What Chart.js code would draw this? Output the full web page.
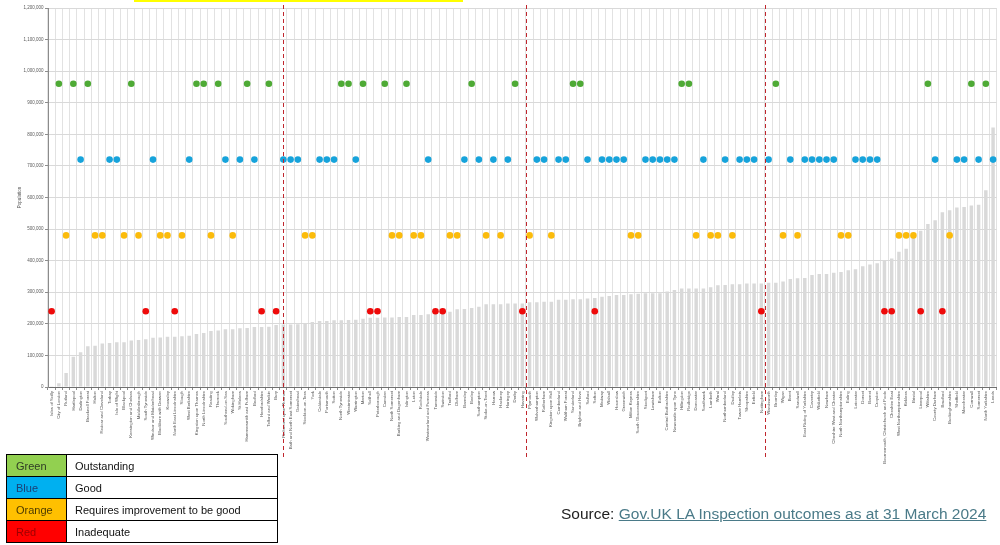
<!DOCTYPE html>
<html>
<head>
<meta charset="utf-8">
<script src="https://cdn.jsdelivr.net/npm/chart.js@4.4.1/dist/chart.umd.min.js"></script>
<style>
  html, body { margin: 0; padding: 0; background: #fff; }
  #wrap { position: relative; width: 1000px; height: 545px; overflow: hidden; font-family: "Liberation Sans", Arial, sans-serif; }
  #chart { position: absolute; left: 0; top: 0; }
  #highlight { position: absolute; left: 134px; top: 0; width: 329px; height: 2px; background: #ffff00; }
  table.key { position: absolute; left: 6px; top: 454px; border-collapse: collapse; table-layout: fixed; }
  table.key td { border: 1.5px solid #000; height: 21px; padding: 0 0 0 9px; font-size: 11px; line-height: 12px; color: #111; white-space: nowrap; }
  table.key td.swatch { width: 50px; }
  table.key td.desc { width: 202px; padding-left: 8px; }
  .source { position: absolute; left: 561px; top: 504px; font-size: 15.5px; line-height: 20px; color: #222; white-space: nowrap; }
  .source a { color: #4a7a88; text-decoration: underline; }
</style>
</head>
<body>
<div id="wrap">
  <canvas id="chart" width="1000" height="545"></canvas>
  <div id="highlight"></div>
  <table class="key" id="key"></table>
  <div class="source">Source: <a href="#">Gov.UK LA Inspection outcomes as at 31 March 2024</a></div>
</div>
<script>
// Local authorities, ordered by population
const authorities = [
  "Isles of Scilly", "City of London", "Rutland", "Hartlepool", "Darlington", "Bracknell Forest", "Halton",
  "Redcar and Cleveland", "Torbay", "Isle of Wight", "Blackpool", "Kensington and Chelsea", "Middlesbrough",
  "South Tyneside", "Windsor and Maidenhead", "Blackburn with Darwen", "Knowsley", "North East Lincolnshire",
  "Slough", "West Berkshire", "Kingston upon Thames", "North Lincolnshire", "Reading", "Thurrock",
  "Southend-on-Sea", "Wokingham", "St Helens", "Hammersmith and Fulham", "Bedford", "Herefordshire",
  "Telford and Wrekin", "Bury", "Richmond upon Thames", "Bath and North East Somerset", "Gateshead",
  "Stockton-on-Tees", "York", "Calderdale", "Portsmouth", "Sutton", "North Tyneside", "Westminster",
  "Warrington", "Merton", "Solihull", "Peterborough", "Camden", "North Somerset", "Barking and Dagenham",
  "Islington", "Luton", "Rochdale", "Westmorland and Furness", "Tameside", "Swindon", "Trafford", "Oldham",
  "Barnsley", "Bexley", "Southampton", "Stoke-on-Trent", "Harrow", "Hackney", "Haringey", "Derby", "Havering",
  "Plymouth", "Wolverhampton", "Rotherham", "Kingston upon Hull", "Cumberland", "Waltham Forest", "Sunderland",
  "Brighton and Hove", "Salford", "Sefton", "Medway", "Walsall", "Hounslow", "Greenwich", "Milton Keynes",
  "South Gloucestershire", "Stockport", "Lewisham", "Bolton", "Central Bedfordshire", "Newcastle upon Tyne",
  "Hillingdon", "Redbridge", "Doncaster", "Southwark", "Lambeth", "Wirral", "Northumberland", "Dudley",
  "Tower Hamlets", "Shropshire", "Enfield", "Nottingham", "Wandsworth", "Bromley", "Wigan", "Brent", "Sandwell",
  "East Riding of Yorkshire", "Coventry", "Wakefield", "Newham", "Cheshire West and Chester",
  "North Northamptonshire", "Ealing", "Leicester", "Dorset", "Barnet", "Croydon",
  "Bournemouth, Christchurch and Poole", "Cheshire East", "West Northamptonshire", "Kirklees", "Bristol",
  "Liverpool", "Wiltshire", "County Durham", "Bradford", "Buckinghamshire", "Sheffield", "Manchester",
  "Cornwall", "Somerset", "North Yorkshire", "Leeds"
];

// Population of each authority
const population = [
  2000, 12000, 44000, 96000, 110000, 129000, 131000, 138000, 139000, 142000,
  142000, 147000, 149000, 151000, 156000, 157000, 159000, 159000, 161000, 162000,
  168000, 171000, 177000, 179000, 183000, 183000, 186000, 187000, 190000, 190000,
  191000, 196000, 198000, 198000, 199000, 200000, 206000, 209000, 209000, 211000,
  211000, 212000, 213000, 216000, 219000, 219000, 220000, 220000, 222000, 222000,
  228000, 228000, 230000, 233000, 233000, 238000, 246000, 247000, 250000, 254000,
  262000, 262000, 262000, 264000, 264000, 264000, 268000, 268000, 270000, 270000,
  276000, 276000, 278000, 278000, 280000, 282000, 286000, 288000, 291000, 291000,
  294000, 295000, 297000, 297000, 297000, 302000, 307000, 312000, 312000, 312000,
  312000, 316000, 322000, 323000, 325000, 325000, 328000, 328000, 328000, 330000,
  330000, 334000, 342000, 344000, 345000, 355000, 358000, 358000, 362000, 364000,
  370000, 373000, 382000, 388000, 392000, 400000, 407000, 428000, 438000, 480000,
  495000, 516000, 528000, 553000, 560000, 568000, 570000, 575000, 577000, 623000,
  822000
];

// Inspection outcome of each authority: G, B, O, R
const outcomes = [
  "R","G","O","G","B","G","O","O","B","B","O","G","O","R","B","O","O","R","O","B",
  "G","G","O","G","B","O","B","G","B","R","G","R","B","B","B","O","O","B","B","B",
  "G","G","B","G","R","R","G","O","O","G","O","O","B","R","R","O","O","B","G","B",
  "O","B","O","B","G","R","O","B","B","O","B","B","G","G","B","R","B","B","B","B",
  "O","O","B","B","B","B","B","G","G","O","B","O","O","B","O","B","B","B","R","B",
  "G","O","B","O","B","B","B","B","B","O","O","B","B","B","B","R","R","O","O","O",
  "R","G","B","R","O","B","B","G","B","G","B"
];

// Key rows
const outcomeCodes = ["G", "B", "O", "R"];
const colourNames = ["Green", "Blue", "Orange", "Red"];
const outcomeNames = ["Outstanding", "Good", "Requires improvement to be good", "Inadequate"];
const outcomeLevels = [960000, 720000, 480000, 240000];
const dotColours = ["#4eaa35", "#16a3db", "#fbbb0b", "#ee0a0a"];
const keyFills = ["#92d050", "#00b0f0", "#ffc000", "#ff0000"];
const keyText = ["#2f3b25", "#1b3f74", "#4d3b00", "#9c0000"];

// Quartile boundaries, in category positions
const quartileBreaks = [32, 65.5, 98.5];

const yMax = 1200000;
const yStep = 100000;

const FONT = "'Liberation Sans', Arial, sans-serif";

// Key table
const key = document.getElementById("key");
colourNames.forEach((name, i) => {
  const tr = document.createElement("tr");
  const a = document.createElement("td");
  a.className = "swatch";
  a.textContent = name;
  a.style.background = keyFills[i];
  a.style.color = keyText[i];
  const b = document.createElement("td");
  b.className = "desc";
  b.textContent = outcomeNames[i];
  tr.appendChild(a); tr.appendChild(b);
  key.appendChild(tr);
});

const outcomeSets = outcomeCodes.map((code, k) => ({
  type: "line",
  label: outcomeNames[k],
  data: outcomes.map(o => (o === code ? outcomeLevels[k] : null)),
  showLine: false,
  pointRadius: 3.3,
  pointHoverRadius: 3.3,
  pointBorderWidth: 0,
  pointBackgroundColor: dotColours[k],
  pointBorderColor: dotColours[k],
  order: 0
}));

const quartileLines = {
  id: "quartileLines",
  afterDraw(chart) {
    const ctx = chart.ctx;
    const xs = chart.scales.x;
    const area = chart.chartArea;
    ctx.save();
    ctx.strokeStyle = "#c0262d";
    ctx.lineWidth = 1;
    ctx.setLineDash([4, 3]);
    quartileBreaks.forEach(b => {
      const x = Math.round(xs.getPixelForValue(b)) + 0.5;
      ctx.beginPath();
      ctx.moveTo(x, area.top - 3);
      ctx.lineTo(x, area.bottom + 70);
      ctx.stroke();
    });
    ctx.restore();
  }
};

new Chart(document.getElementById("chart"), {
  data: {
    labels: authorities,
    datasets: [
      ...outcomeSets,
      {
        type: "bar",
        label: "Population",
        data: population,
        backgroundColor: "#d9d9d9",
        categoryPercentage: 1,
        barPercentage: 0.48,
        order: 1
      }
    ]
  },
  options: {
    responsive: false,
    animation: false,
    devicePixelRatio: 1,
    layout: { padding: { left: 17, top: 8, right: 2, bottom: 0 } },
    plugins: { legend: { display: false }, tooltip: { enabled: false } },
    scales: {
      x: {
        type: "category",
        offset: true,
        grid: { offset: true, color: "#e2e2e2", lineWidth: 1, tickLength: 3, tickColor: "#8c8c8c" },
        border: { color: "#6f6f6f", width: 1 },
        ticks: {
          autoSkip: false, minRotation: 90, maxRotation: 90, padding: 1,
          color: "#595959", font: { family: FONT, size: 4.3 }
        },
        afterFit(s) { s.height = 158; }
      },
      y: {
        min: 0, max: yMax,
        grid: { color: "#d9d9d9", lineWidth: 1, tickLength: 3, tickColor: "#8c8c8c" },
        border: { color: "#8c8c8c", width: 1 },
        ticks: {
          stepSize: yStep, padding: 1.5, color: "#595959",
          font: { family: FONT, size: 4.5 },
          callback: v => v.toLocaleString("en-GB")
        },
        title: { display: true, text: "Population", color: "#595959", font: { family: FONT, size: 4.5 }, padding: 0 },
        afterFit(s) { s.width = 31; }
      }
    }
  },
  plugins: [quartileLines]
});
</script>
</body>
</html>
